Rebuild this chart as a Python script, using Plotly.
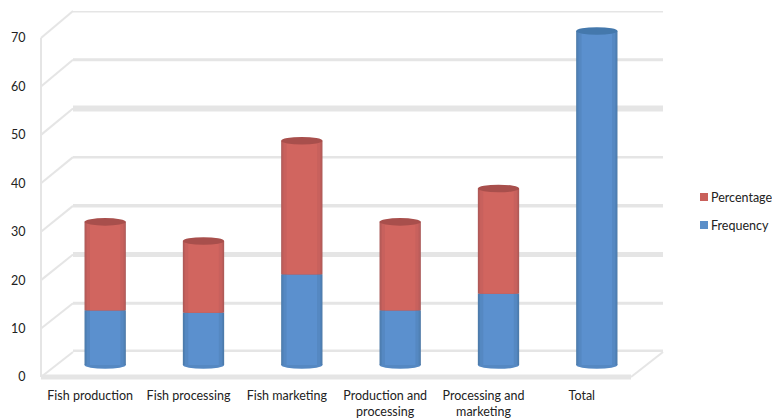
import plotly.graph_objects as go

categories = ["Fish production", "Fish processing", "Fish marketing",
              "Production and<br>processing", "Processing and<br>marketing", "Total"]
frequency = [11.5, 11, 19, 11.5, 15, 70]
percentage = [18.5, 15, 28, 18.5, 22, 0]
tick_values = [0, 10, 20, 30, 40, 50, 60, 70]
grid_widths = [5, 3, 5, 3.5, 2.5, 6, 3, 3]

W, H = 772, 420
GRID = "#e5e5e5"
RED = [("#a95856", 0.42), ("#bb5d5a", 0.405), ("#c8615d", 0.375), ("#d1655f", 0.31)]
BLUE = [("#4b78a6", 0.42), ("#4f80b5", 0.405), ("#5588c2", 0.375), ("#5b90ce", 0.31)]
RED_CAP, BLUE_CAP = "#a84f4c", "#4478ac"
FONT = "Lato"

def xdom(a, b):
    return [a / W, b / W]

def ydom(bottom, top):
    return [1 - bottom / H, 1 - top / H]

FRONT_X, BACK_X, MID_X = (41, 631), (73, 663), (56, 646)
FRONT_Y, BACK_Y = (377, 38), (352, 11)
# bar plane: value 0 at 365 px, 70 at 31 px, with a little headroom so the ends are not clipped
UNIT = (365 - 31) / 70
PAD = 3
MID_Y = (365 + PAD * UNIT, 31 - PAD * UNIT)

def py(plane, v):
    return 1 - (plane[0] + (plane[1] - plane[0]) * v / 70) / H

fig = go.Figure()

# back wall (first subplot, lowest)
for v, w in zip(tick_values, grid_widths):
    fig.add_trace(go.Scatter(x=[0, 1], y=[v, v], mode="lines", xaxis="x", yaxis="y",
                             line=dict(color=GRID, width=w), showlegend=False, hoverinfo="skip"))

# bars
pos = list(range(len(categories)))
for series, base, layers in [(frequency, [0] * 6, BLUE), (percentage, frequency, RED)]:
    for color, width in layers:
        fig.add_trace(go.Bar(x=pos, y=series, base=base, width=width, xaxis="x3", yaxis="y3",
                             marker=dict(color=color, line_width=0), showlegend=False))

shapes = []
# wall and floor chrome
for v, w in zip(tick_values, grid_widths):
    shapes.append(dict(type="line", xref="paper", yref="paper", layer="below",
                       x0=FRONT_X[0] / W, x1=BACK_X[0] / W, y0=py(FRONT_Y, v), y1=py(BACK_Y, v),
                       line=dict(color=GRID, width=2)))
shapes.append(dict(type="line", xref="paper", yref="paper", layer="below",
                   x0=FRONT_X[0] / W, x1=FRONT_X[0] / W, y0=py(FRONT_Y, 0), y1=py(FRONT_Y, 70),
                   line=dict(color=GRID, width=2)))
shapes.append(dict(type="line", xref="paper", yref="paper", layer="below",
                   x0=FRONT_X[0] / W, x1=FRONT_X[1] / W, y0=py(FRONT_Y, 0), y1=py(FRONT_Y, 0),
                   line=dict(color=GRID, width=5)))
shapes.append(dict(type="line", xref="paper", yref="paper", layer="below",
                   x0=FRONT_X[1] / W, x1=BACK_X[1] / W, y0=py(FRONT_Y, 0), y1=py(BACK_Y, 0),
                   line=dict(color=GRID, width=2)))

# cylinder ends
HALF = 0.21
for i, (f, p) in enumerate(zip(frequency, percentage)):
    top = f + p
    shapes.append(dict(type="circle", xref="x3", yref="y3", layer="below",
                       x0=i - HALF, x1=i + HALF, y0=-0.8, y1=0.8,
                       fillcolor=BLUE[2][0], line_width=0))
    shapes.append(dict(type="circle", xref="x3", yref="y3", layer="above",
                       x0=i - HALF, x1=i + HALF, y0=top - 0.8, y1=top + 0.8,
                       fillcolor=RED_CAP if p else BLUE_CAP, line_width=0))

# legend
annotations = []
for name, color, yp in [("Percentage", "#c9605b", 197), ("Frequency", "#5b8fc9", 225)]:
    shapes.append(dict(type="rect", xref="paper", yref="paper",
                       x0=700 / W, x1=708 / W, y0=1 - (yp - 4) / H, y1=1 - (yp + 4) / H,
                       fillcolor=color, line_width=0))
    annotations.append(dict(text=name, xref="paper", yref="paper", x=709 / W, y=1 - yp / H,
                            xanchor="left", yanchor="middle", showarrow=False,
                            font=dict(family=FONT, size=12.5, color="#222222")))

fig.update_layout(
    width=W, height=H, autosize=False, margin=dict(l=0, r=0, t=0, b=0),
    paper_bgcolor="white", plot_bgcolor="rgba(0,0,0,0)", barmode="overlay",
    showlegend=False, shapes=shapes, annotations=annotations,
    font=dict(family=FONT, size=12.5, color="#222222"),
    xaxis=dict(domain=xdom(*BACK_X), range=[0, 1], visible=False, fixedrange=True, automargin=False),
    yaxis=dict(domain=ydom(*BACK_Y), range=[0, 70], visible=False, anchor="x", fixedrange=True, automargin=False),
    xaxis2=dict(domain=xdom(*FRONT_X), range=[-0.5, 5.5], tickmode="array", tickvals=pos,
                ticktext=categories, showgrid=False, zeroline=False, showline=False,
                ticks="outside", ticklen=7, tickcolor="rgba(0,0,0,0)", tickangle=0,
                anchor="y2", fixedrange=True, automargin=False),
    yaxis2=dict(domain=ydom(*FRONT_Y), range=[0, 70], tickmode="array", tickvals=tick_values,
                ticktext=[str(v) for v in tick_values], showgrid=False, zeroline=False,
                showline=False, ticks="outside", ticklen=12, tickcolor="rgba(0,0,0,0)",
                anchor="x2", fixedrange=True, automargin=False),
    xaxis3=dict(domain=xdom(*MID_X), range=[-0.5, 5.5], visible=False, fixedrange=True, automargin=False),
    yaxis3=dict(domain=ydom(*MID_Y), range=[-PAD, 70 + PAD], visible=False, anchor="x3", fixedrange=True, automargin=False),
)
# an invisible trace so the front-plane axes are drawn with their labels
fig.add_trace(go.Scatter(x=pos, y=[0] * 6, xaxis="x2", yaxis="y2", mode="markers",
                         marker=dict(opacity=0), showlegend=False, hoverinfo="skip"))
fig.write_html("out.html", post_script="document.body.style.margin='0';",
               config=dict(displayModeBar=False))
